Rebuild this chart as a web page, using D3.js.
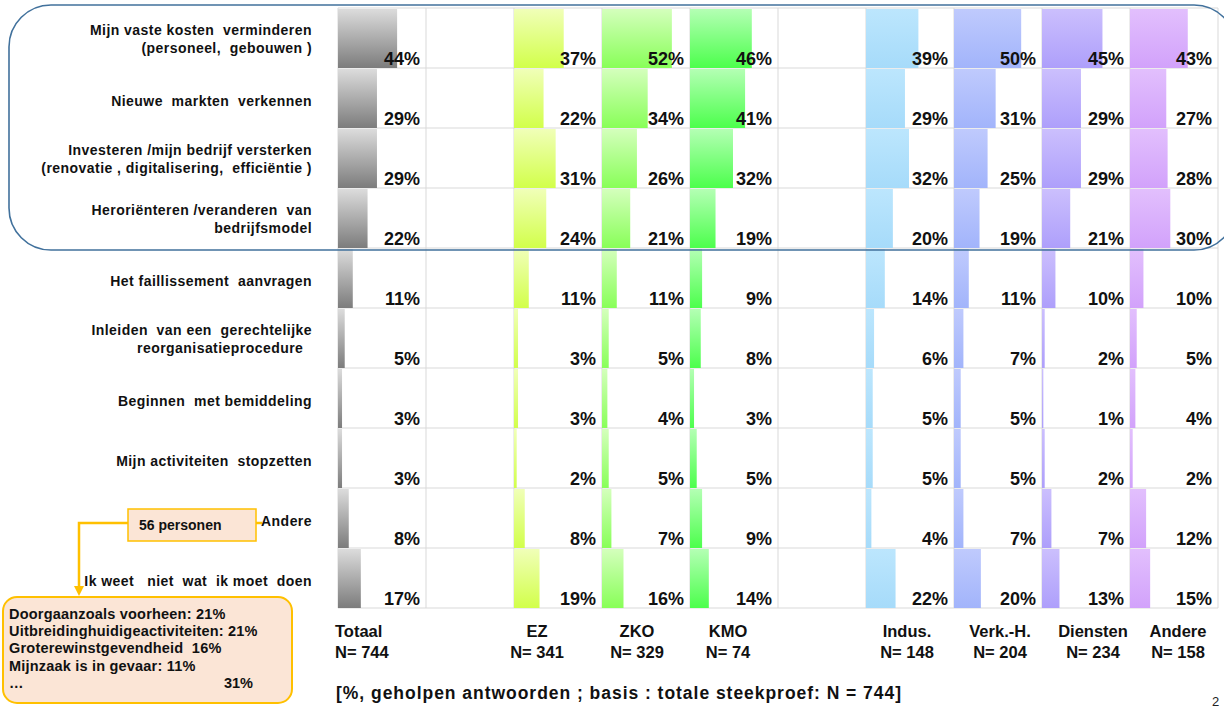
<!DOCTYPE html>
<html>
<head>
<meta charset="utf-8">
<script src="https://d3js.org/d3.v7.min.js"></script>
<style>
body { margin: 0; background: #fff; font-family: "Liberation Sans", Arial, sans-serif; }
svg text { white-space: pre; }
.narrow { font-family: "Liberation Sans Narrow", "Liberation Sans", Arial, sans-serif; }
</style>
</head>
<body>
<svg id="chart" width="1224" height="708"></svg>
<script>
// categories (rows)
var rowLabels = [
  ["Mijn vaste kosten  verminderen", "(personeel,  gebouwen )"],
  ["Nieuwe  markten  verkennen"],
  ["Investeren /mijn bedrijf versterken", "(renovatie , digitalisering,  efficiëntie )"],
  ["Heroriënteren /veranderen  van", "bedrijfsmodel"],
  ["Het faillissement  aanvragen"],
  ["Inleiden  van een  gerechtelijke", "reorganisatieprocedure  "],
  ["Beginnen  met bemiddeling"],
  ["Mijn activiteiten  stopzetten"],
  ["Andere"],
  ["Ik weet   niet  wat  ik moet  doen"]
];

// column groups
var groups = ["Totaal", "EZ", "ZKO", "KMO", "Indus.", "Verk.-H.", "Diensten", "Andere"];
var groupN = [744, 341, 329, 74, 148, 204, 234, 158];
// slots on the horizontal axis (two empty spacer columns)
var slots = ["Totaal", "_gap1", "EZ", "ZKO", "KMO", "_gap2", "Indus.", "Verk.-H.", "Diensten", "Andere"];

// series values (%)
var totaal   = [44, 29, 29, 22, 11, 5, 3, 3, 8, 17];
var ez       = [37, 22, 31, 24, 11, 3, 3, 2, 8, 19];
var zko      = [52, 34, 26, 21, 11, 5, 4, 5, 7, 16];
var kmo      = [46, 41, 32, 19, 9, 8, 3, 5, 9, 14];
var indus    = [39, 29, 32, 20, 14, 6, 5, 5, 4, 22];
var verk     = [50, 31, 25, 19, 11, 7, 5, 5, 7, 20];
var diensten = [45, 29, 29, 21, 10, 2, 1, 2, 7, 13];
var andere   = [43, 27, 28, 30, 10, 5, 4, 2, 12, 15];
var series = [totaal, ez, zko, kmo, indus, verk, diensten, andere];

// "Andere" breakdown
var andereCount = "56 personen";
var andereDetail = [
  ["Doorgaanzoals voorheen: 21%", ""],
  ["Uitbreidinghuidigeactiviteiten: 21%", ""],
  ["Groterewinstgevendheid  16%", ""],
  ["Mijnzaak is in gevaar: 11%", ""],
  ["…", "31%"]
];
var footnote = "[%, geholpen antwoorden ; basis : totale steekproef: N = 744]";

// gradient colours per group [top, bottom]
var colors = [
  ["#dcdcdc", "#7c7c7c"],
  ["#f0ffb8", "#d2ff4a"],
  ["#d4ffbc", "#88ff58"],
  ["#b4ffb4", "#4cff4c"],
  ["#bce6fd", "#a6dbfa"],
  ["#bfcafd", "#a2b4fb"],
  ["#cbbffd", "#ae9ffb"],
  ["#e2bffd", "#d2a2fb"]
];
// small horizontal nudges for the column headers, as in the reference
var headOffset = [0, -21, -9, -6, -3, 2, 7, 4];

var svg = d3.select("#chart");
var defs = svg.append("defs");
groups.forEach(function(g, i) {
  var lg = defs.append("linearGradient").attr("id", "grad" + i)
    .attr("x1", 0).attr("y1", 0).attr("x2", 0).attr("y2", 1);
  lg.append("stop").attr("offset", "0%").attr("stop-color", colors[i][0]);
  lg.append("stop").attr("offset", "100%").attr("stop-color", colors[i][1]);
});

var xSlot = d3.scaleBand().domain(slots).range([338, 1218]).padding(0);
var y = d3.scaleBand().domain(d3.range(rowLabels.length)).range([8, 608]).padding(0);
var w = d3.scaleLinear().domain([0, 65.5]).range([0, xSlot.bandwidth()]);

// grid
var grid = svg.append("g").attr("stroke", "#d9d9d9").attr("stroke-width", 1);
grid.selectAll("line.h")
  .data(d3.range(rowLabels.length + 1))
  .enter().append("line")
  .attr("x1", 338).attr("x2", 1218)
  .attr("y1", function(d) { return d < rowLabels.length ? y(d) : y(d - 1) + y.bandwidth(); })
  .attr("y2", function(d) { return d < rowLabels.length ? y(d) : y(d - 1) + y.bandwidth(); });
grid.selectAll("line.v")
  .data(slots.concat(["_end"]))
  .enter().append("line")
  .attr("x1", function(d) { return d === "_end" ? 1218 : xSlot(d); })
  .attr("x2", function(d) { return d === "_end" ? 1218 : xSlot(d); })
  .attr("y1", 8).attr("y2", 608);

// bars + value labels
groups.forEach(function(g, gi) {
  var col = svg.append("g");
  col.selectAll("rect")
    .data(series[gi])
    .enter().append("rect")
    .attr("x", xSlot(g))
    .attr("y", function(d, i) { return y(i) + 1; })
    .attr("width", function(d) { return w(d); })
    .attr("height", y.bandwidth() - 1)
    .attr("fill", "url(#grad" + gi + ")");
  col.selectAll("text")
    .data(series[gi])
    .enter().append("text")
    .attr("x", xSlot(g) + xSlot.bandwidth() - 6)
    .attr("y", function(d, i) { return y(i) + 57; })
    .attr("text-anchor", "end")
    .attr("font-size", 18)
    .attr("font-weight", "bold")
    .attr("fill", "#111")
    .text(function(d) { return d + "%"; });
});

// row labels
var rl = svg.append("g").attr("font-size", 14).attr("font-weight", "bold")
  .attr("letter-spacing", 0.45).attr("fill", "#111");
rowLabels.forEach(function(lines, i) {
  var c = y(i) + y.bandwidth() / 2;
  lines.forEach(function(t, j) {
    var yy = lines.length === 1 ? c + 7.5 : c - 3 + j * 18;
    rl.append("text").attr("x", 312).attr("y", yy).attr("text-anchor", "end").text(t);
  });
});

// rounded frame around the first four rows
svg.append("rect")
  .attr("x", 9).attr("y", 5).attr("width", 1227).attr("height", 245)
  .attr("rx", 42).attr("ry", 42)
  .attr("fill", "none").attr("stroke", "#41719c").attr("stroke-width", 1.6);

// column headers
var hd = svg.append("g").attr("class", "narrow").attr("font-size", 16.5).attr("font-weight", "bold").attr("fill", "#111");
groups.forEach(function(g, i) {
  var first = i === 0;
  var x = first ? 335 : xSlot(g) + xSlot.bandwidth() / 2 + headOffset[i];
  hd.append("text").attr("x", x).attr("y", 637).attr("text-anchor", first ? "start" : "middle").text(g);
  hd.append("text").attr("x", x).attr("y", 658).attr("text-anchor", first ? "start" : "middle").text("N= " + groupN[i]);
});

svg.append("text")
  .attr("x", 336).attr("y", 699).attr("font-size", 17.5).attr("font-weight", "bold").attr("fill", "#111")
  .attr("textLength", 565).attr("lengthAdjust", "spacing")
  .text(footnote);
svg.append("text").attr("x", 1212).attr("y", 706).attr("font-size", 13).attr("fill", "#222").text("2");

// annotation for "Andere"
var orange = "#ffc000";
var ann = svg.append("g");
ann.append("path")
  .attr("d", "M128,523 H79 V588 M256,523 H262")
  .attr("fill", "none").attr("stroke", orange).attr("stroke-width", 2.5);
ann.append("path").attr("d", "M74,586 L84,586 L79,596 Z").attr("fill", orange);
ann.append("rect").attr("x", 128).attr("y", 509).attr("width", 128).attr("height", 32)
  .attr("fill", "#fbe5d6").attr("stroke", orange).attr("stroke-width", 1.5);
ann.append("text").attr("x", 139).attr("y", 530).attr("font-size", 14).attr("font-weight", "bold")
  .attr("fill", "#111").text(andereCount);

ann.append("rect").attr("x", 3).attr("y", 597).attr("width", 289).attr("height", 106)
  .attr("rx", 14).attr("ry", 14)
  .attr("fill", "#fbe5d6").attr("stroke", orange).attr("stroke-width", 2);
andereDetail.forEach(function(d, i) {
  var yy = 619 + i * 17.2;
  ann.append("text").attr("x", 9).attr("y", yy).attr("font-size", 14.5).attr("font-weight", "bold")
    .attr("letter-spacing", 0.2).attr("fill", "#111").text(d[0]);
  if (d[1]) {
    ann.append("text").attr("x", 253).attr("y", yy).attr("text-anchor", "end").attr("font-size", 14.5)
      .attr("font-weight", "bold").attr("fill", "#111").text(d[1]);
  }
});
</script>
</body>
</html>
